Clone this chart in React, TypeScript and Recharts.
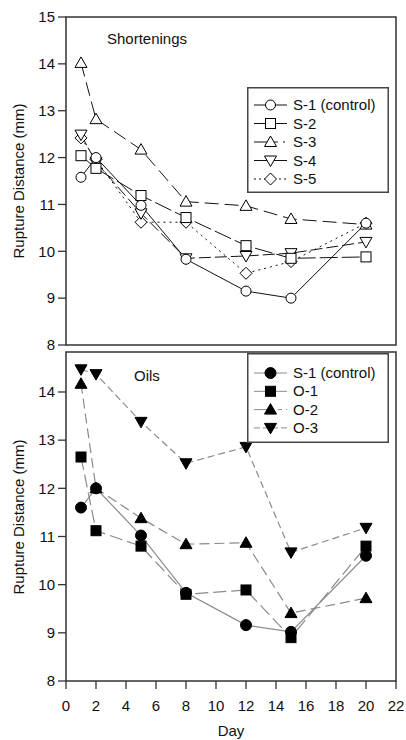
import React from 'react';
import { LineChart, Line, XAxis, YAxis, ReferenceArea } from 'recharts';

// sampling days (x)
const days = [1, 2, 5, 8, 12, 15, 20];

// Shortenings panel
const s1 = [11.58, 12.0, 10.98, 9.83, 9.15, 9.0, 10.6];
const s2 = [12.04, 11.77, 11.19, 10.72, 10.12, 9.85, 9.88];
const s3 = [14.02, 12.82, 12.17, 11.06, 10.97, 10.69, 10.57];
const s4 = [12.49, 11.9, 10.81, 9.85, 9.9, 9.96, 10.2];
const s5 = [12.42, 11.96, 10.62, 10.62, 9.53, 9.78, 10.6];

// Oils panel
const c1 = [11.6, 12.0, 11.02, 9.83, 9.16, 9.02, 10.6];
const o1 = [12.65, 11.12, 10.8, 9.8, 9.89, 8.9, 10.8];
const o2 = [14.17, 12.0, 11.38, 10.84, 10.87, 9.41, 9.72];
const o3 = [14.47, 14.37, 13.38, 12.52, 12.86, 10.67, 11.18];

const yTicksTop = [8, 9, 10, 11, 12, 13, 14, 15];
const yTicksBottom = [8, 9, 10, 11, 12, 13, 14];
const xTicks = [0, 2, 4, 6, 8, 10, 12, 14, 16, 18, 20, 22];

const FONT = '"Liberation Sans", Arial, Helvetica, sans-serif';

type Shape = 'circle' | 'square' | 'triangle' | 'triangleDown' | 'diamond';

interface SeriesDef {
  key: string;
  name: string;
  values: number[];
  shape: Shape;
  filled: boolean;
  dash?: string;
  legendDash?: string;
}

const shortSeries: SeriesDef[] = [
  { key: 's5', name: 'S-5', values: s5, shape: 'diamond', filled: false, dash: '2 4', legendDash: '2 3' },
  { key: 's4', name: 'S-4', values: s4, shape: 'triangleDown', filled: false, dash: '12 4' },
  { key: 's3', name: 'S-3', values: s3, shape: 'triangle', filled: false, dash: '14 6', legendDash: '24 5 2 5' },
  { key: 's2', name: 'S-2', values: s2, shape: 'square', filled: false, dash: '18 4' },
  { key: 's1', name: 'S-1 (control)', values: s1, shape: 'circle', filled: false },
];

const oilSeries: SeriesDef[] = [
  { key: 'o3', name: 'O-3', values: o3, shape: 'triangleDown', filled: true, dash: '7 4', legendDash: '6 3' },
  { key: 'o2', name: 'O-2', values: o2, shape: 'triangle', filled: true, dash: '10 5', legendDash: '20 4 4 4' },
  { key: 'o1', name: 'O-1', values: o1, shape: 'square', filled: true, dash: '13 5' },
  { key: 'c1', name: 'S-1 (control)', values: c1, shape: 'circle', filled: true },
];

const buildRows = (series: SeriesDef[]) =>
  days.map((d, i) => {
    const row: Record<string, number> = { day: d };
    series.forEach(s => { row[s.key] = s.values[i]; });
    return row;
  });

const Marker = ({ shape, filled, cx, cy }: { shape: Shape; filled: boolean; cx: number; cy: number }) => {
  const props = { fill: filled ? '#000' : '#fff', stroke: '#000', strokeWidth: 1 };
  switch (shape) {
    case 'circle':
      return <circle cx={cx} cy={cy} r={filled ? 5.5 : 5} {...props} />;
    case 'square':
      return <rect x={cx - 5} y={cy - 5} width={10} height={10} {...props} />;
    case 'triangle':
      return <polygon points={`${cx},${cy - 6} ${cx - 6},${cy + 4.5} ${cx + 6},${cy + 4.5}`} {...props} />;
    case 'triangleDown':
      return <polygon points={`${cx},${cy + 6} ${cx - 6},${cy - 4.5} ${cx + 6},${cy - 4.5}`} {...props} />;
    default:
      return <polygon points={`${cx},${cy - 6} ${cx + 6},${cy} ${cx},${cy + 6} ${cx - 6},${cy}`} {...props} />;
  }
};

const LegendBox = ({ series, left, top, width, height, firstY, step, lineColor }: any) => {
  // legend lists in the original order (reverse of draw order)
  const items: SeriesDef[] = [...series].reverse();
  return (
    <svg style={{ position: 'absolute', left, top }} width={width} height={height}>
      <rect x={0.75} y={0.75} width={width - 1.5} height={height - 1.5} fill="#fff" stroke="#444" strokeWidth={1.5} />
      {items.map((s, i) => {
        const y = firstY + i * step;
        return (
          <g key={s.key}>
            <line x1={7} x2={40} y1={y} y2={y} stroke={lineColor} strokeWidth={1} strokeDasharray={s.legendDash} />
            <Marker shape={s.shape} filled={s.filled} cx={23.5} cy={y} />
            <text x={46} y={y + 5} fontSize={15} fontFamily={FONT} fill="#111">{s.name}</text>
          </g>
        );
      })}
    </svg>
  );
};

const YLabel = ({ top }: { top: number }) => (
  <div
    style={{
      position: 'absolute', left: 18, top, transform: 'translate(-50%, -50%) rotate(-90deg)',
      whiteSpace: 'nowrap', fontFamily: FONT, fontSize: 15, color: '#111',
    }}
  >
    Rupture Distance (mm)
  </div>
);

const PanelTitle = ({ text, left, top }: { text: string; left: number; top: number }) => (
  <div style={{ position: 'absolute', left, top, fontFamily: FONT, fontSize: 15, color: '#111', lineHeight: '15px' }}>
    {text}
  </div>
);

const tickStyle = { fontSize: 15, fill: '#111', fontFamily: FONT };

const App = () => {
  const topRows = buildRows(shortSeries);
  const bottomRows = buildRows(oilSeries);

  return (
    <div style={{ position: 'absolute', left: 0, top: 0, width: 406, height: 740, background: '#fff' }}>
      {/* top: shortenings */}
      <div style={{ position: 'absolute', left: 0, top: 0 }}>
        <LineChart width={406} height={360} data={topRows} margin={{ top: 17, right: 10, bottom: 15, left: 0 }}>
          <XAxis type="number" dataKey="day" domain={[0, 22]} hide />
          <YAxis
            type="number" domain={[8, 15]} ticks={yTicksTop} width={66} interval={0}
            axisLine={false} tickSize={8} tickMargin={3} tick={tickStyle}
            tickLine={{ stroke: '#333', strokeWidth: 1.3 }} allowDataOverflow
          />
          <ReferenceArea x1={0} x2={22} y1={8} y2={15} fill="none" stroke="#333" strokeWidth={1.5} />
          {shortSeries.map(s => (
            <Line
              key={s.key} dataKey={s.key} type="linear" stroke="#111" strokeWidth={1}
              strokeDasharray={s.dash} isAnimationActive={false}
              dot={(p: any) => <Marker key={`${s.key}-${p.index}`} shape={s.shape} filled={s.filled} cx={p.cx} cy={p.cy} />}
              activeDot={false}
            />
          ))}
        </LineChart>
      </div>

      {/* bottom: oils */}
      <div style={{ position: 'absolute', left: 0, top: 0 }}>
        <LineChart width={406} height={740} data={bottomRows} margin={{ top: 352, right: 10, bottom: 0, left: 0 }}>
          <XAxis
            type="number" dataKey="day" domain={[0, 22]} ticks={xTicks} interval={0} height={59}
            axisLine={false} tickSize={8} tickMargin={11} tick={tickStyle}
            tickLine={{ stroke: '#333', strokeWidth: 1.3 }}
            label={{ value: 'Day', position: 'insideBottom', offset: 4, style: { fontSize: 15, fill: '#111', fontFamily: FONT } }}
          />
          <YAxis
            type="number" domain={[8, 14.83]} ticks={yTicksBottom} width={66} interval={0}
            axisLine={false} tickSize={8} tickMargin={3} tick={tickStyle}
            tickLine={{ stroke: '#333', strokeWidth: 1.3 }} allowDataOverflow
          />
          <ReferenceArea x1={0} x2={22} y1={8} y2={14.83} fill="none" stroke="#333" strokeWidth={1.5} />
          {oilSeries.map(s => (
            <Line
              key={s.key} dataKey={s.key} type="linear" stroke="#8a8a8a" strokeWidth={1.2}
              strokeDasharray={s.dash} isAnimationActive={false}
              dot={(p: any) => <Marker key={`${s.key}-${p.index}`} shape={s.shape} filled={s.filled} cx={p.cx} cy={p.cy} />}
              activeDot={false}
            />
          ))}
        </LineChart>
      </div>

      <PanelTitle text="Shortenings" left={107} top={31} />
      <PanelTitle text="Oils" left={134} top={368} />
      <YLabel top={181} />
      <YLabel top={517} />

      <LegendBox series={shortSeries} left={247} top={87} width={142} height={106} firstY={18} step={18.5} lineColor="#111" />
      <LegendBox series={oilSeries} left={247} top={353} width={142} height={90} firstY={20} step={18.3} lineColor="#8a8a8a" />
    </div>
  );
};

export default App;
